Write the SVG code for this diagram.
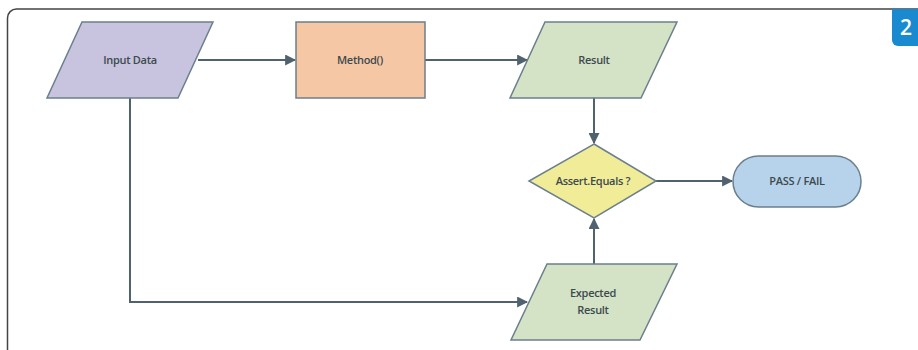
<svg xmlns="http://www.w3.org/2000/svg" width="918" height="350" viewBox="0 0 918 350">
<style>
.shape{stroke:#6b7f8c;stroke-width:1.5}
.lbl{font-family:"Open Sans","Liberation Sans",sans-serif;font-size:11px;font-weight:600;letter-spacing:-0.3px;fill:#3c4a4e;text-anchor:middle}
.conn{fill:none;stroke:#4f626e;stroke-width:2}
</style>
<defs>
<marker id="arr" viewBox="0 0 10 10" refX="9" refY="5" markerWidth="5.5" markerHeight="5.5" orient="auto" markerUnits="strokeWidth">
<path d="M0,0 L10,5 L0,10 z" fill="#4f626e"/>
</marker>
</defs>
<rect width="918" height="350" fill="#fff"/>
<rect x="7.5" y="9" width="940" height="380" rx="9" fill="none" stroke="#444" stroke-width="1.5"/>
<g id="badge">
<path d="M892,9 H918 V46 H898 a6,6 0 0 1 -6,-6 z" fill="#1a8ad0"/>
<text x="906" y="35" font-family="Open Sans, Liberation Sans, sans-serif" font-size="21" fill="#fff" text-anchor="middle" font-weight="600">2</text>
</g>
<g id="connectors">
<line class="conn" x1="198" y1="60" x2="295" y2="60" marker-end="url(#arr)"/>
<line class="conn" x1="425" y1="60" x2="527" y2="60" marker-end="url(#arr)"/>
<line class="conn" x1="594" y1="98" x2="594" y2="143" marker-end="url(#arr)"/>
<line class="conn" x1="656" y1="181" x2="732" y2="181" marker-end="url(#arr)"/>
<line class="conn" x1="594" y1="264" x2="594" y2="219" marker-end="url(#arr)"/>
<polyline class="conn" points="130,98 130,302 527,302" marker-end="url(#arr)"/>
</g>
<g id="input-data">
<polygon class="shape" points="82,22 213,22 178,98 47,98" fill="#c8c4df"/>
<text class="lbl" x="130" y="64">Input Data</text>
</g>
<g id="method">
<rect class="shape" x="296" y="22" width="129" height="76" fill="#f6c7a4"/>
<text class="lbl" x="360" y="64">Method()</text>
</g>
<g id="result">
<polygon class="shape" points="545,22 677,22 641,98 510,98" fill="#d4e2c6"/>
<text class="lbl" x="594" y="64">Result</text>
</g>
<g id="assert">
<polygon class="shape" points="594,144 656,181 594,218 529,181" fill="#f1ec98"/>
<text class="lbl" x="593" y="185">Assert.Equals ?</text>
</g>
<g id="pass-fail">
<rect class="shape" x="733" y="156" width="128" height="51" rx="25.5" fill="#b7d3ec"/>
<text class="lbl" x="797" y="185">PASS / FAIL</text>
</g>
<g id="expected-result">
<polygon class="shape" points="547,264 677,264 640,340 511,340" fill="#d4e2c6"/>
<text class="lbl" x="593" y="297">Expected</text>
<text class="lbl" x="593" y="314">Result</text>
</g>
</svg>
